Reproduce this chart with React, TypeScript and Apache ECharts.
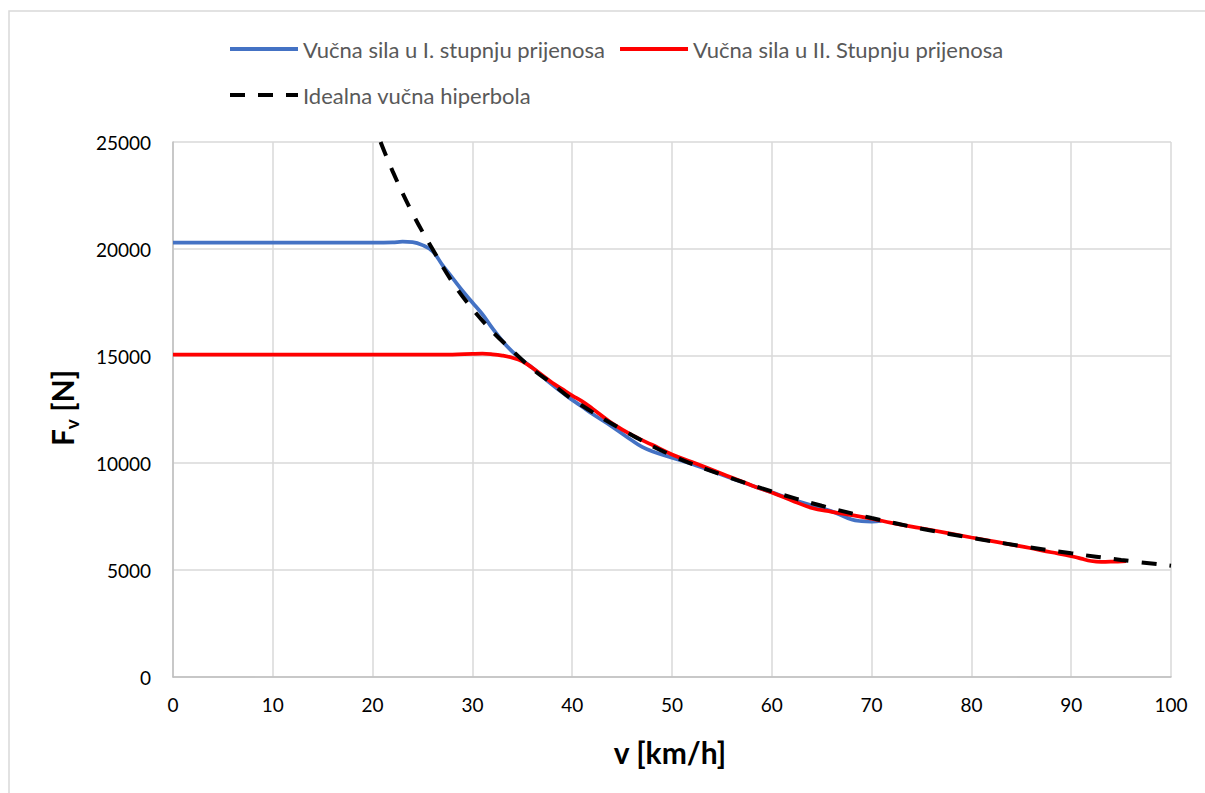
import React, { useEffect, useRef } from "react";
import * as echarts from "echarts";

const seriesNames = [
  "Vučna sila u I. stupnju prijenosa",
  "Vučna sila u II. Stupnju prijenosa",
  "Idealna vučna hiperbola",
];

const speedGear1 = [0, 5, 10, 15, 20, 22, 23, 24, 25, 26, 27, 28, 29, 30, 31, 32, 33, 34, 35, 36, 38, 40, 41, 42, 44, 46, 47, 48, 50, 52, 55, 58, 60, 62, 64, 66, 68, 69, 70, 71];
const forceGear1 = [20300, 20300, 20300, 20300, 20300, 20310, 20340, 20320, 20180, 19900, 19250, 18650, 18050, 17500, 16950, 16300, 15700, 15200, 14800, 14450, 13650, 12950, 12630, 12300, 11700, 11050, 10750, 10550, 10250, 9950, 9450, 8950, 8630, 8300, 8020, 7750, 7360, 7280, 7260, 7290];

const speedGear2 = [0, 10, 20, 28, 30, 31, 32, 33, 34, 35, 36, 37, 38, 39, 40, 41, 42, 43, 44, 46, 48, 50, 52, 55, 58, 60, 62, 64, 66, 68, 70, 72, 75, 80, 85, 88, 90, 91, 92, 93, 94, 95.5];
const forceGear2 = [15060, 15060, 15060, 15070, 15100, 15110, 15080, 15020, 14920, 14750, 14450, 14100, 13750, 13450, 13150, 12880, 12550, 12200, 11850, 11300, 10850, 10400, 10050, 9500, 8950, 8620, 8250, 7900, 7720, 7560, 7400, 7200, 6950, 6520, 6100, 5830, 5650, 5530, 5420, 5380, 5390, 5420];

const speedIdeal = [20.8, 22, 24, 26, 28, 30, 32, 34, 36, 38, 40, 45, 50, 55, 60, 65, 70, 75, 80, 85, 90, 95, 100];
const forceIdeal = [25000, 23640, 21670, 20000, 18450, 17200, 16150, 15250, 14400, 13700, 12980, 11560, 10350, 9450, 8670, 8000, 7430, 6930, 6500, 6120, 5780, 5470, 5200];

const xTicks = { min: 0, max: 100, interval: 10 };
const yTicks = { min: 0, max: 25000, interval: 5000 };

const pairs = (xs: number[], ys: number[]) => xs.map((x, i) => [x, ys[i]]);

const FONT = "Lato, 'Open Sans', 'DejaVu Sans', sans-serif";
const SOLID_ICON = "path://M0,0H68V4H0Z";
const DASH_ICON = "path://M0,0H15V4H0Z M28,0H43V4H28Z M56,0H68V4H56Z";

export default function App() {
  const ref = useRef<HTMLDivElement>(null);
  useEffect(() => {
    document.body.style.margin = "0";
    const chart = echarts.init(ref.current!, null, { renderer: "svg" });
    const legendText = { fontSize: 22, color: "#595959", fontFamily: FONT };
    chart.setOption({
      animation: false,
      backgroundColor: "#ffffff",
      textStyle: { fontFamily: FONT },
      grid: { left: 173, right: 34, top: 142, bottom: 116, containLabel: false },
      legend: [
        {
          left: 225,
          top: 33,
          itemWidth: 68,
          itemHeight: 4,
          itemGap: 15,
          data: [
            { name: seriesNames[0], icon: SOLID_ICON },
            { name: seriesNames[1], icon: SOLID_ICON },
          ],
          textStyle: legendText,
        },
        {
          left: 225,
          top: 79,
          itemWidth: 68,
          itemHeight: 4,
          data: [{ name: seriesNames[2], icon: DASH_ICON }],
          textStyle: legendText,
        },
      ],
      xAxis: {
        type: "value",
        ...xTicks,
        axisLine: { show: true, lineStyle: { color: "#bfbfbf", width: 1.5 } },
        axisTick: { show: false },
        splitLine: { show: true, lineStyle: { color: "#d9d9d9", width: 1.5 } },
        axisLabel: { margin: 18, fontSize: 19, color: "#000000", fontFamily: FONT },
      },
      yAxis: {
        type: "value",
        ...yTicks,
        axisLine: { show: true, lineStyle: { color: "#bfbfbf", width: 1.5 } },
        axisTick: { show: false },
        splitLine: { show: true, lineStyle: { color: "#d9d9d9", width: 1.5 } },
        axisLabel: {
          margin: 22,
          fontSize: 19,
          color: "#000000",
          fontFamily: FONT,
          formatter: (v: number) => String(v),
        },
      },
      graphic: [
        {
          type: "rect",
          silent: true,
          z: -10,
          shape: { x: 9, y: 11, width: 1205, height: 800 },
          style: { fill: "none", stroke: "#d9d9d9", lineWidth: 1.5 },
        },
        {
          type: "text",
          x: 670,
          y: 752,
          style: {
            text: "v [km/h]",
            fontSize: 30,
            fontWeight: "bold",
            fontFamily: FONT,
            fill: "#000000",
            align: "center",
            verticalAlign: "middle",
          },
        },
        {
          type: "text",
          x: 62,
          y: 408,
          rotation: Math.PI / 2,
          style: {
            text: "{a|F}{b|v}{a| [N]}",
            align: "center",
            verticalAlign: "middle",
            fill: "#000000",
            rich: {
              a: { fontSize: 30, fontWeight: "bold", fontFamily: FONT, lineHeight: 38, fill: "#000000" },
              b: { fontSize: 19, fontWeight: "bold", fontFamily: FONT, lineHeight: 18, verticalAlign: "bottom", fill: "#000000" },
            },
          },
        },
      ],
      series: [
        {
          name: seriesNames[0],
          type: "line",
          data: pairs(speedGear1, forceGear1),
          smooth: 0.4,
          symbol: "none",
          lineStyle: { color: "#4472c4", width: 3.75 },
          itemStyle: { color: "#4472c4" },
          z: 2,
        },
        {
          name: seriesNames[1],
          type: "line",
          data: pairs(speedGear2, forceGear2),
          smooth: 0.4,
          symbol: "none",
          lineStyle: { color: "#ff0000", width: 3.75 },
          itemStyle: { color: "#ff0000" },
          z: 3,
        },
        {
          name: seriesNames[2],
          type: "line",
          data: pairs(speedIdeal, forceIdeal),
          smooth: 0.4,
          symbol: "none",
          lineStyle: { color: "#000000", width: 4, type: [15, 13], cap: "butt" },
          itemStyle: { color: "#000000" },
          z: 4,
        },
      ],
    });
    return () => chart.dispose();
  }, []);
  return <div ref={ref} style={{ width: 1205, height: 793 }} />;
}
